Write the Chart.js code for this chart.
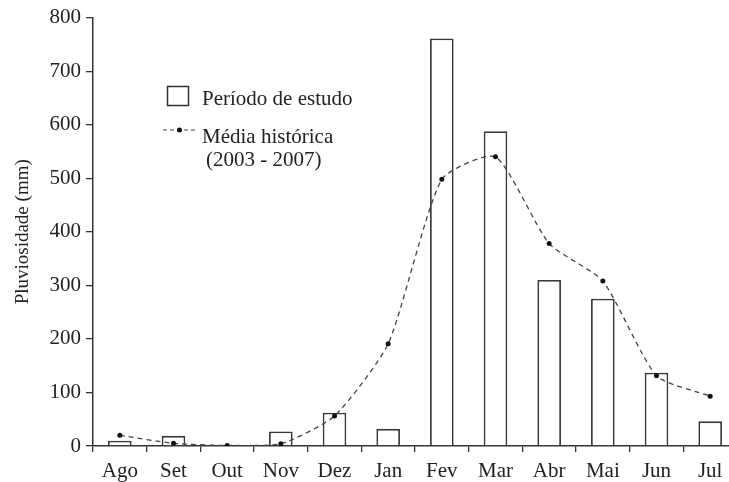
<!DOCTYPE html>
<html>
<head>
<meta charset="utf-8">
<script src="https://cdn.jsdelivr.net/npm/chart.js@4.4.1/dist/chart.umd.min.js"></script>
<style>
  html, body { margin: 0; padding: 0; background: #fff; overflow: hidden; }
  #wrap { width: 741px; height: 482px; }
</style>
</head>
<body>
<div id="wrap"><canvas id="chuva" width="741" height="482"></canvas></div>
<script>
const months = ['Ago', 'Set', 'Out', 'Nov', 'Dez', 'Jan', 'Fev', 'Mar', 'Abr', 'Mai', 'Jun', 'Jul'];
const periodoEstudo = [10, 19, 0, 27, 62, 32, 761, 588, 310, 275, 137, 46];
const mediaHistorica = [20, 5, 1, 4, 56, 191, 498, 540, 378, 308, 131, 93];
const yTicks = [0, 100, 200, 300, 400, 500, 600, 700, 800];

const serif = 'Liberation Serif';
const ink = '#222';

// legend drawn inside the plot, like the original figure
const legendBox = {
  id: 'legendBox',
  afterDraw(chart) {
    const ctx = chart.ctx;
    ctx.save();
    ctx.font = '21px "' + serif + '"';
    ctx.fillStyle = ink;
    ctx.textBaseline = 'alphabetic';

    ctx.strokeStyle = '#333';
    ctx.lineWidth = 1.5;
    ctx.strokeRect(167.5, 86.5, 21, 19);
    ctx.fillText('Período de estudo', 202, 105);

    ctx.strokeStyle = '#444';
    ctx.setLineDash([4, 3]);
    ctx.lineWidth = 1.2;
    ctx.beginPath();
    ctx.moveTo(163, 130);
    ctx.lineTo(196, 130);
    ctx.stroke();
    ctx.setLineDash([]);
    ctx.beginPath();
    ctx.arc(179.5, 130, 2.5, 0, Math.PI * 2);
    ctx.fillStyle = '#111';
    ctx.fill();

    ctx.fillStyle = ink;
    ctx.fillText('Média histórica', 202, 143);
    ctx.fillText('(2003 - 2007)', 206, 166);
    ctx.restore();
  }
};

const config = {
  type: 'bar',
  data: {
    labels: months,
    datasets: [
      {
        type: 'line',
        label: 'Média histórica (2003 - 2007)',
        data: mediaHistorica,
        borderColor: '#444',
        borderWidth: 1.3,
        borderDash: [5, 4],
        pointRadius: 2.5,
        pointBackgroundColor: '#111',
        pointBorderWidth: 0,
        tension: 0.2,
        fill: false,
        order: 0
      },
      {
        label: 'Período de estudo',
        data: periodoEstudo,
        backgroundColor: '#fff',
        borderColor: '#3a3a3a',
        borderWidth: 1.8,
        barPercentage: 0.44,
        categoryPercentage: 1,
        order: 1
      }
    ]
  },
  options: {
    responsive: false,
    animation: false,
    layout: { padding: { top: 16, right: 0, left: 0, bottom: 0 } },
    plugins: {
      legend: { display: false },
      tooltip: { enabled: false }
    },
    scales: {
      x: {
        grid: { display: true, drawOnChartArea: false, drawTicks: true, tickLength: 6, color: '#333', lineWidth: 1.3 },
        border: { display: true, color: '#333', width: 1.5 },
        ticks: { color: ink, font: { family: serif, size: 21 }, padding: 7, maxRotation: 0 },
        afterFit(scale) { scale.height = 36; }
      },
      y: {
        min: 0,
        max: 800,
        afterBuildTicks(scale) { scale.ticks = yTicks.map(v => ({ value: v })); },
        grid: { display: true, drawOnChartArea: false, drawTicks: true, tickLength: 7, color: '#333', lineWidth: 1.3 },
        border: { display: true, color: '#333', width: 1.5 },
        ticks: { color: ink, font: { family: serif, size: 21 }, padding: 5 },
        title: {
          display: true,
          text: 'Pluviosidade (mm)',
          color: ink,
          font: { family: serif, size: 19 },
          padding: { top: 12, bottom: 0 }
        },
        afterFit(scale) { scale.width = 93; }
      }
    }
  },
  plugins: [legendBox]
};

const rainChart = new Chart(document.getElementById('chuva'), config);
</script>
</body>
</html>
